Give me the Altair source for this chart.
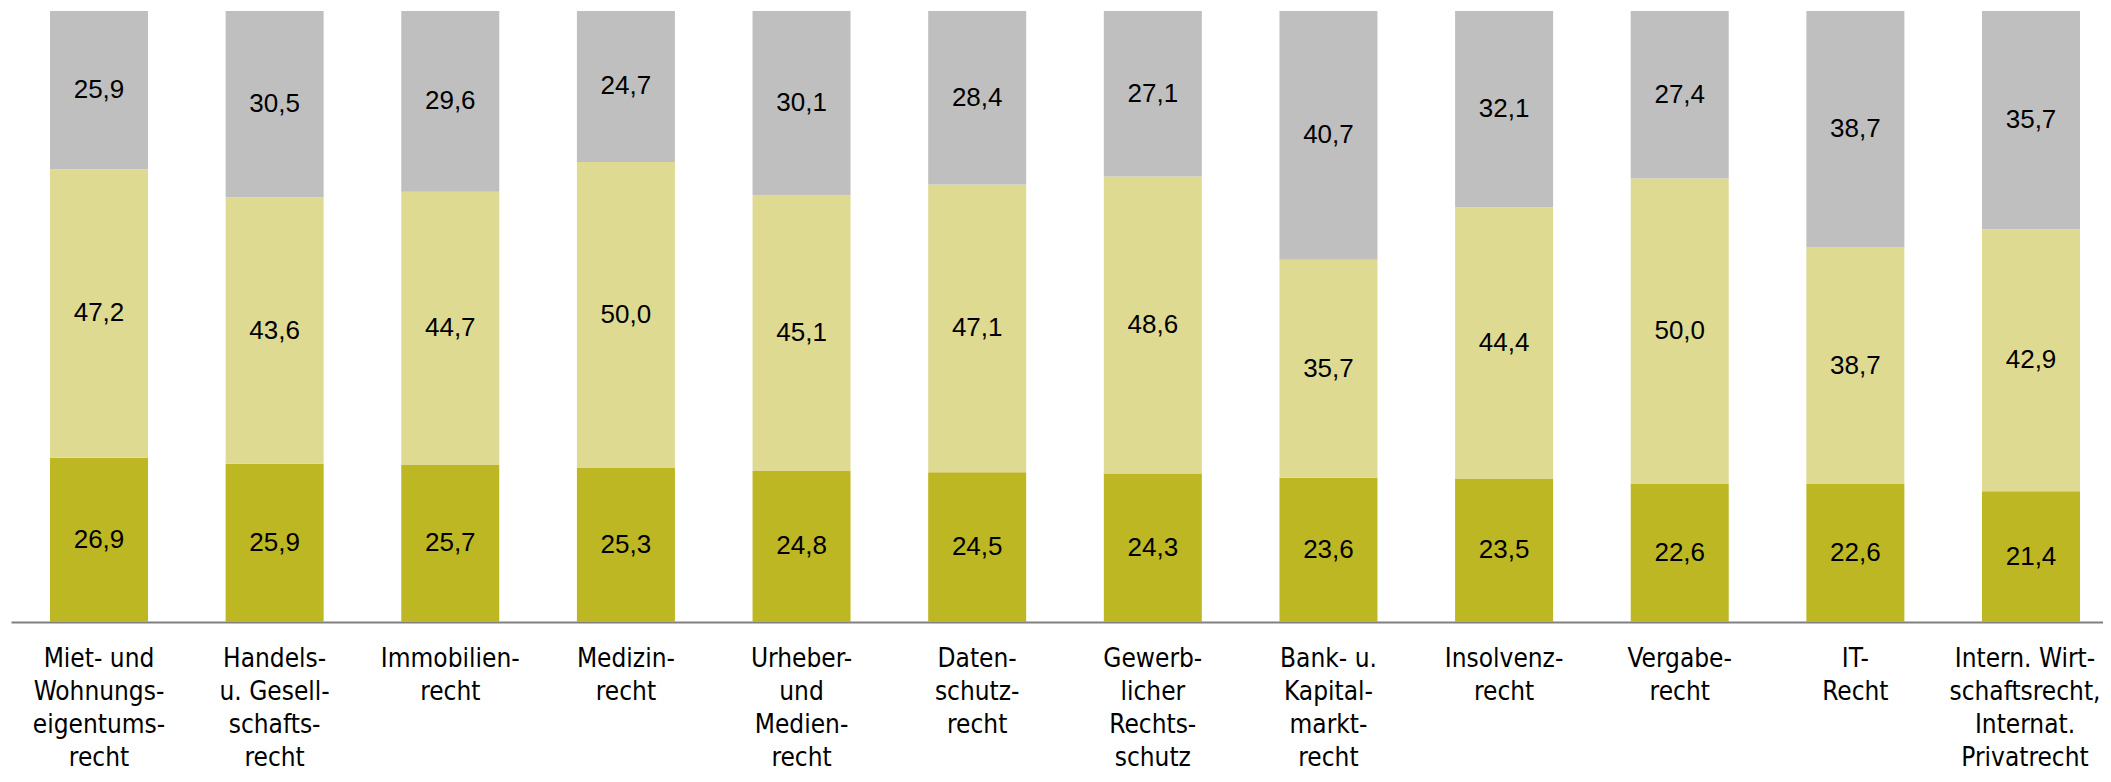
import altair as alt
import pandas as pd

CATEGORIES = [
    ["Miet- und", "Wohnungs-", "eigentums-", "recht"],
    ["Handels-", "u. Gesell-", "schafts-", "recht"],
    ["Immobilien-", "recht"],
    ["Medizin-", "recht"],
    ["Urheber-", "und", "Medien-", "recht"],
    ["Daten-", "schutz-", "recht"],
    ["Gewerb-", "licher", "Rechts-", "schutz"],
    ["Bank- u.", "Kapital-", "markt-", "recht"],
    ["Insolvenz-", "recht"],
    ["Vergabe-", "recht"],
    ["IT-", "Recht"],
    ["Intern. Wirt-", "schaftsrecht,", "Internat.", "Privatrecht"],
]
BOTTOM = [26.9, 25.9, 25.7, 25.3, 24.8, 24.5, 24.3, 23.6, 23.5, 22.6, 22.6, 21.4]
MIDDLE = [47.2, 43.6, 44.7, 50.0, 45.1, 47.1, 48.6, 35.7, 44.4, 50.0, 38.7, 42.9]
TOP = [25.9, 30.5, 29.6, 24.7, 30.1, 28.4, 27.1, 40.7, 32.1, 27.4, 38.7, 35.7]

SERIES = ["unten", "mitte", "oben"]
COLORS = ["#BDB723", "#DEDA92", "#BFBFBF"]

cat_keys = ["|".join(c) for c in CATEGORIES]
rows = []
for i, key in enumerate(cat_keys):
    for j, (s, vals) in enumerate(zip(SERIES, [BOTTOM, MIDDLE, TOP])):
        rows.append({"cat": key, "series": s, "order": j, "value": vals[i]})
df = pd.DataFrame(rows)

base = alt.Chart(df).transform_stack(
    stack="value", groupby=["cat"], as_=["y0", "y1"], sort=[alt.SortField("order", order="ascending")]
)

x_enc = alt.X(
    "cat:N",
    sort=cat_keys,
    scale=alt.Scale(domain=cat_keys, range=[0, 2108], paddingInner=0.442, paddingOuter=0.222),
    axis=alt.Axis(
        title=None,
        labelAngle=0,
        labelExpr="split(datum.value, '|')",
        labelFont="Liberation Sans Narrow, Arial Narrow, DejaVu Sans Condensed, sans-serif",
        labelFontSize=26,
        labelLineHeight=33,
        labelColor="#000000",
        labelPadding=23,
        labelBaseline="top",
        labelLimit=0,
        labelOverlap=False,
        labelOffset={"condition": {"test": "datum.index === 1", "value": -6}, "value": 0},
        ticks=False,
        domainColor="#808080",
        domainWidth=2,
        grid=False,
    ),
)

y_scale = alt.Scale(domain=[0, 100], nice=False, zero=True)

bars = base.mark_bar().encode(
    x=x_enc,
    y=alt.Y("y0:Q", scale=y_scale, axis=None),
    y2="y1:Q",
    color=alt.Color("series:N", scale=alt.Scale(domain=SERIES, range=COLORS), legend=None),
)

texts = base.transform_calculate(
    mid="(datum.y0 + datum.y1) / 2",
    lbl="replace(format(datum.value, '.1f'), '.', ',')",
).mark_text(
    font="Liberation Sans, Arial, sans-serif", fontSize=26, color="#000000", baseline="middle", align="center"
).encode(
    x=alt.X("cat:N", sort=cat_keys),
    y=alt.Y("mid:Q", scale=y_scale, axis=None),
    text="lbl:N",
)

chart = alt.layer(bars, texts).properties(
    width=2092,
    height=611,
    padding={"left": 3, "top": 3, "right": 0, "bottom": 152},
    autosize=alt.AutoSizeParams(type="none"),
).configure_view(stroke=None)

chart.save("out.html", embed_options={"renderer": "svg", "actions": False})
